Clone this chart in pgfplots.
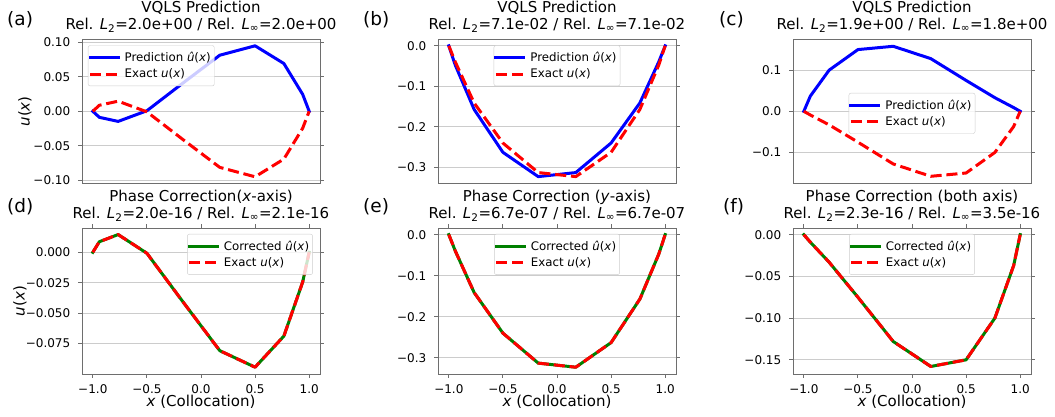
\documentclass[border=0pt]{standalone}
\usepackage{fontspec}
\setmainfont{DejaVu Sans}
\usepackage{pgfplots}
\pgfplotsset{compat=1.18}

\definecolor{mblue}{RGB}{0,0,255}
\definecolor{mred}{RGB}{255,0,0}
\definecolor{mgreen}{RGB}{0,128,0}
\definecolor{framegray}{RGB}{110,110,110}

\newcommand\tfont{\fontsize{15}{18}\selectfont}
\newcommand\pfont{\fontsize{18.5}{22}\selectfont}

\pgfplotsset{
  panel/.style={
    scale only axis, width=238pt,
    xmin=-1.1, xmax=1.1, clip=false,
    axis line style={framegray, line width=0.9pt},
    tick style={framegray, line width=0.9pt},
    tick align=outside, major tick length=3.85pt,
    ymajorgrids, grid style={black!20, line width=0.9pt},
    ticklabel style={font=\fontsize{12}{14}\selectfont},
    yticklabel style={inner sep=0pt, anchor=east, xshift=-7.7pt},
    xticklabel style={inner sep=0pt, anchor=north, yshift=-7pt},
    legend cell align=left,
    legend style={font=\fontsize{11.8}{14}\selectfont, draw=black!20, rounded corners=2pt,
      fill=white, fill opacity=0.8, text opacity=1, inner xsep=0.5pt, inner ysep=3.5pt,
      nodes={inner sep=3pt}, /tikz/every odd column/.append style={column sep=2pt}},
    legend image code/.code={\draw[#1] (0pt,0pt) -- (28pt,0pt);},
  },
  toprow/.style={height=144pt, xtick=\empty},
  botrow/.style={height=146pt, xtick={-1,-0.5,0,0.5,1}, xticklabels={−1.0,−0.5,0.0,0.5,1.0}},
  bl/.style={mblue, line width=3pt, line join=round, line cap=rect},
  gr/.style={mgreen, line width=3pt, line join=round, line cap=rect},
  rd/.style={mred, line width=3pt, line join=round, line cap=butt, dash pattern=on 11.1pt off 4.8pt},
}

\newcommand\titles[2]{%
  \node[anchor=base, font=\tfont, inner sep=0pt, yshift=26.5pt] at (rel axis cs:0.5,1) {#1};
  \node[anchor=base, font=\tfont, inner sep=0pt, yshift=9.8pt] at (rel axis cs:0.5,1) {#2};
}
\newcommand\xlab{\node[anchor=base, font=\tfont, inner sep=0pt, yshift=-33pt] at (rel axis cs:0.5,0) {\textit{x} (Collocation)};}
\newcommand\ylab[1]{\node[xshift=#1, rotate=90, anchor=base, font=\tfont, inner sep=0pt] at (rel axis cs:0,0.5) {\textit{u}(\textit{x})};}

\begin{document}
\begin{tikzpicture}
\path[use as bounding box] (0,0) rectangle (1055pt,417pt);

% (a)
\begin{axis}[panel, toprow, at={(82pt,233.7pt)}, anchor=south west,
  ymin=-0.104, ymax=0.104,
  ytick={-0.1,-0.05,0,0.05,0.1}, yticklabels={−0.10,−0.05,0.00,0.05,0.10},
  legend style={at={(0.025,0.958)}, anchor=north west}]
\addplot[bl] coordinates {(-1,0) (-0.9397,-0.0087) (-0.7660,-0.0146) (-0.5,0.0008) (-0.1736,0.0400) (0.1736,0.0810) (0.5,0.0946) (0.7660,0.0690) (0.9397,0.0245) (1,0)};
\addlegendentry{Prediction \textit{û}(\textit{x})}
\addplot[rd] coordinates {(-1,0) (-0.9397,0.0087) (-0.7660,0.0146) (-0.5,-0.0008) (-0.1736,-0.0400) (0.1736,-0.0810) (0.5,-0.0946) (0.7660,-0.0690) (0.9397,-0.0245) (1,0)};
\addlegendentry{Exact \textit{u}(\textit{x})}
\titles{VQLS Prediction}{Rel. \textit{L}\textsubscript{2}=2.0e+00 / Rel. \textit{L}\textsubscript{∞}=2.0e+00}
\ylab{-52.3pt}
\end{axis}

% (b)
\begin{axis}[panel, toprow, at={(438pt,233.7pt)}, anchor=south west,
  ymin=-0.3395, ymax=0.0162,
  ytick={-0.3,-0.2,-0.1,0}, yticklabels={−0.3,−0.2,−0.1,0.0},
  legend style={at={(0.5,0.958)}, anchor=north}]
\addplot[bl] coordinates {(-1,0) (-0.9397,-0.048) (-0.7660,-0.157) (-0.5,-0.263) (-0.1736,-0.323) (0.1736,-0.313) (0.5,-0.240) (0.7660,-0.141) (0.9397,-0.040) (1,0)};
\addlegendentry{Prediction \textit{û}(\textit{x})}
\addplot[rd] coordinates {(-1,0) (-0.9397,-0.040) (-0.7660,-0.141) (-0.5,-0.240) (-0.1736,-0.313) (0.1736,-0.323) (0.5,-0.263) (0.7660,-0.157) (0.9397,-0.048) (1,0)};
\addlegendentry{Exact \textit{u}(\textit{x})}
\titles{VQLS Prediction}{Rel. \textit{L}\textsubscript{2}=7.1e-02 / Rel. \textit{L}\textsubscript{∞}=7.1e-02}
\end{axis}

% (c)
\begin{axis}[panel, toprow, at={(793pt,233.7pt)}, anchor=south west,
  ymin=-0.175, ymax=0.175,
  ytick={-0.1,0,0.1}, yticklabels={−0.1,0.0,0.1},
  legend style={at={(0.5,0.486)}, anchor=center}]
\addplot[bl] coordinates {(-1,0) (-0.9397,0.037) (-0.7660,0.100) (-0.5,0.150) (-0.1736,0.158) (0.1736,0.128) (0.5,0.075) (0.7660,0.033) (0.9397,0.009) (1,0)};
\addlegendentry{Prediction \textit{û}(\textit{x})}
\addplot[rd] coordinates {(-1,0) (-0.9397,-0.009) (-0.7660,-0.033) (-0.5,-0.075) (-0.1736,-0.128) (0.1736,-0.158) (0.5,-0.150) (0.7660,-0.100) (0.9397,-0.037) (1,0)};
\addlegendentry{Exact \textit{u}(\textit{x})}
\titles{VQLS Prediction}{Rel. \textit{L}\textsubscript{2}=1.9e+00 / Rel. \textit{L}\textsubscript{∞}=1.8e+00}
\end{axis}

% (d)
\begin{axis}[panel, botrow, at={(82pt,43pt)}, anchor=south west,
  ymin=-0.1002, ymax=0.0200,
  ytick={-0.075,-0.05,-0.025,0}, yticklabels={−0.075,−0.050,−0.025,0.000},
  legend style={at={(0.97,0.959)}, anchor=north east}]
\addplot[gr] coordinates {(-1,0) (-0.9397,0.0087) (-0.7660,0.0146) (-0.5,-0.0008) (-0.1736,-0.0400) (0.1736,-0.0810) (0.5,-0.0946) (0.7660,-0.0690) (0.9397,-0.0245) (1,0)};
\addlegendentry{Corrected \textit{û}(\textit{x})}
\addplot[rd] coordinates {(-1,0) (-0.9397,0.0087) (-0.7660,0.0146) (-0.5,-0.0008) (-0.1736,-0.0400) (0.1736,-0.0810) (0.5,-0.0946) (0.7660,-0.0690) (0.9397,-0.0245) (1,0)};
\addlegendentry{Exact \textit{u}(\textit{x})}
\titles{Phase Correction(\textit{x}-axis)}{Rel. \textit{L}\textsubscript{2}=2.0e-16 / Rel. \textit{L}\textsubscript{∞}=2.1e-16}
\ylab{-57.3pt}
\xlab
\end{axis}

% (e)
\begin{axis}[panel, botrow, at={(438pt,43pt)}, anchor=south west,
  ymin=-0.3395, ymax=0.0162,
  ytick={-0.3,-0.2,-0.1,0}, yticklabels={−0.3,−0.2,−0.1,0.0},
  legend style={at={(0.5,0.959)}, anchor=north}]
\addplot[gr] coordinates {(-1,0) (-0.9397,-0.040) (-0.7660,-0.141) (-0.5,-0.240) (-0.1736,-0.313) (0.1736,-0.323) (0.5,-0.263) (0.7660,-0.157) (0.9397,-0.048) (1,0)};
\addlegendentry{Corrected \textit{û}(\textit{x})}
\addplot[rd] coordinates {(-1,0) (-0.9397,-0.040) (-0.7660,-0.141) (-0.5,-0.240) (-0.1736,-0.313) (0.1736,-0.323) (0.5,-0.263) (0.7660,-0.157) (0.9397,-0.048) (1,0)};
\addlegendentry{Exact \textit{u}(\textit{x})}
\titles{Phase Correction (\textit{y}-axis)}{Rel. \textit{L}\textsubscript{2}=6.7e-07 / Rel. \textit{L}\textsubscript{∞}=6.7e-07}
\xlab
\end{axis}

% (f)
\begin{axis}[panel, botrow, at={(793pt,43pt)}, anchor=south west,
  ymin=-0.167, ymax=0.008,
  ytick={-0.15,-0.1,-0.05,0}, yticklabels={−0.15,−0.10,−0.05,0.00},
  legend style={at={(0.5,0.959)}, anchor=north}]
\addplot[gr] coordinates {(-1,0) (-0.9397,-0.009) (-0.7660,-0.033) (-0.5,-0.075) (-0.1736,-0.128) (0.1736,-0.158) (0.5,-0.150) (0.7660,-0.100) (0.9397,-0.037) (1,0)};
\addlegendentry{Corrected \textit{û}(\textit{x})}
\addplot[rd] coordinates {(-1,0) (-0.9397,-0.009) (-0.7660,-0.033) (-0.5,-0.075) (-0.1736,-0.128) (0.1736,-0.158) (0.5,-0.150) (0.7660,-0.100) (0.9397,-0.037) (1,0)};
\addlegendentry{Exact \textit{u}(\textit{x})}
\titles{Phase Correction (both axis)}{Rel. \textit{L}\textsubscript{2}=2.3e-16 / Rel. \textit{L}\textsubscript{∞}=3.5e-16}
\xlab
\end{axis}

\node[anchor=base west, font=\pfont, inner sep=0pt] at (7pt,391pt) {(a)};
\node[anchor=base west, font=\pfont, inner sep=0pt] at (363pt,391pt) {(b)};
\node[anchor=base west, font=\pfont, inner sep=0pt] at (719pt,391pt) {(c)};
\node[anchor=base west, font=\pfont, inner sep=0pt] at (7pt,204pt) {(d)};
\node[anchor=base west, font=\pfont, inner sep=0pt] at (363pt,204pt) {(e)};
\node[anchor=base west, font=\pfont, inner sep=0pt] at (723pt,204pt) {(f)};
\end{tikzpicture}
\end{document}
